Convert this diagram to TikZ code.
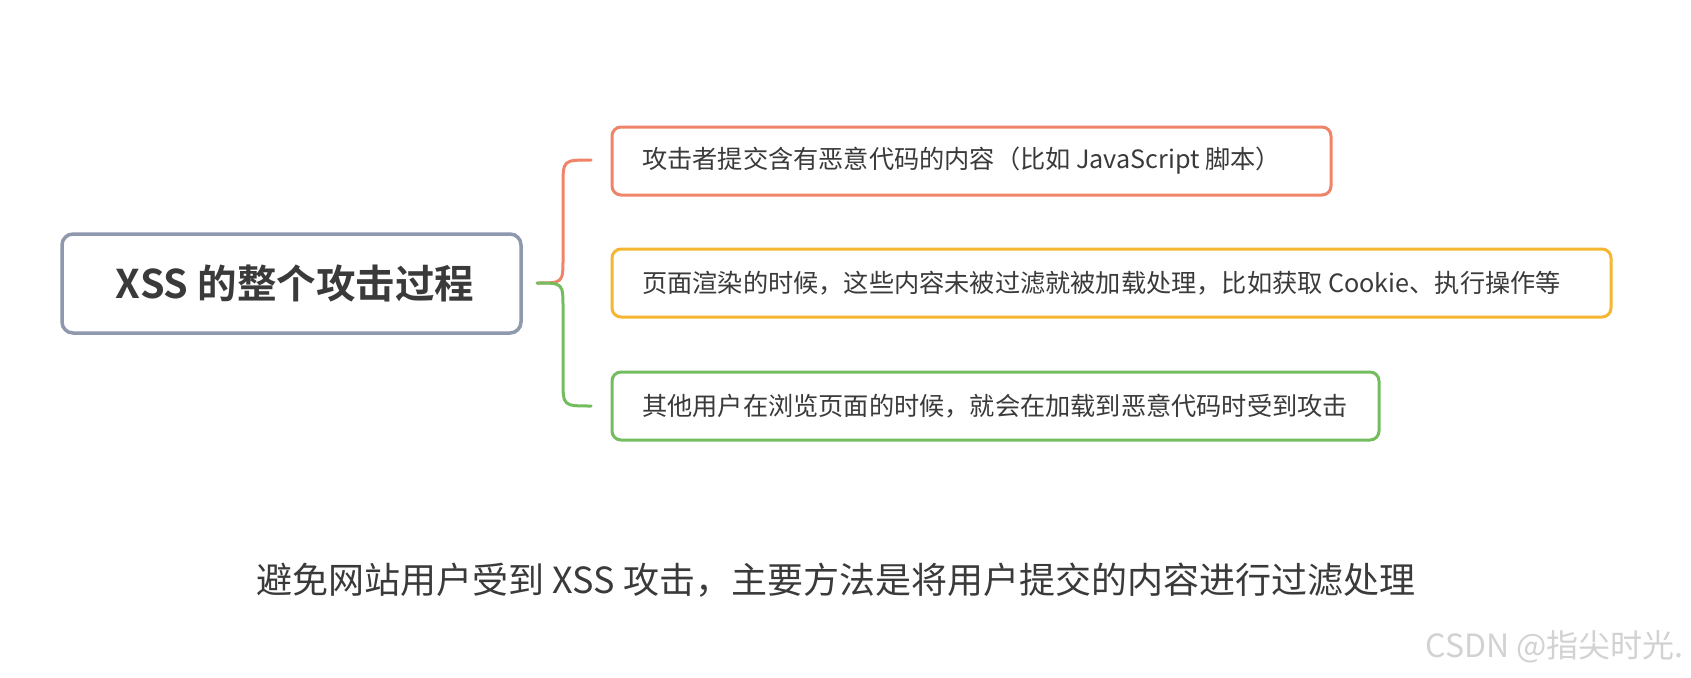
\documentclass[tikz,border=0pt]{standalone}
\usepackage{fontspec}
\setmainfont{Noto Sans CJK SC}
\newfontfamily\cjkbold{Noto Sans CJK SC Bold}
\definecolor{mainborder}{HTML}{8E99AD}
\definecolor{redb}{HTML}{F08468}
\definecolor{yelb}{HTML}{F5B731}
\definecolor{greenb}{HTML}{74BD5F}
\definecolor{txt}{HTML}{3A3A3A}
\definecolor{wm}{HTML}{D2D2D2}
\begin{document}
\begin{tikzpicture}[x=1pt,y=-1pt,
  leaf/.style={draw=#1, line width=3pt, rounded corners=9pt, fill=white},
  leaftext/.style={anchor=west, text=txt, font=\fontsize{25.2}{29}\selectfont, inner sep=0pt},
  branch/.style={draw=#1, line width=3pt, line cap=round}]
\fill[white] (0,0) rectangle (1691,677);
\useasboundingbox (0,0) rectangle (1691,677);
% main box
\draw[draw=mainborder, line width=3.5pt, rounded corners=11pt] (62,234) rectangle (521,333);
\node[text=txt, font=\cjkbold\fontsize{39.5}{45}\selectfont, inner sep=0pt] (main) at (295,283) {XSS 的整个攻击过程};
% leaf boxes
\draw[leaf=redb] (612,127) rectangle (1331,195);
\node[leaftext] (t1) at (642,161) {攻击者提交含有恶意代码的内容（比如 JavaScript 脚本）};
\draw[leaf=yelb] (612,249) rectangle (1611,317);
\node[leaftext] (t2) at (642,283) {页面渲染的时候，这些内容未被过滤就被加载处理，比如获取 Cookie、执行操作等};
\draw[leaf=greenb] (612,372) rectangle (1379,440);
\node[leaftext] (t3) at (642,406) {其他用户在浏览页面的时候，就会在加载到恶意代码时受到攻击};
% brace
\coordinate (mid) at (537,283);
\coordinate (topend) at (591,160);
\coordinate (botend) at (591,406);
\draw[branch=redb] (mid) .. controls (563,283) .. (563,258) -- (563,186) .. controls (563,160) .. (topend);
\draw[branch=greenb] (mid) .. controls (563,283) .. (563,308) -- (563,380) .. controls (563,406) .. (botend);
% bottom text
\node[text=txt, font=\fontsize{36}{41}\selectfont, inner sep=0pt] (bottom) at (836,580) {避免网站用户受到 XSS 攻击，主要方法是将用户提交的内容进行过滤处理};
% watermark
\node[text=wm, font=\fontsize{32}{36}\selectfont, inner sep=0pt, anchor=east] (wmk) at (1684,647) {CSDN @指尖时光.};
\end{tikzpicture}
\end{document}
